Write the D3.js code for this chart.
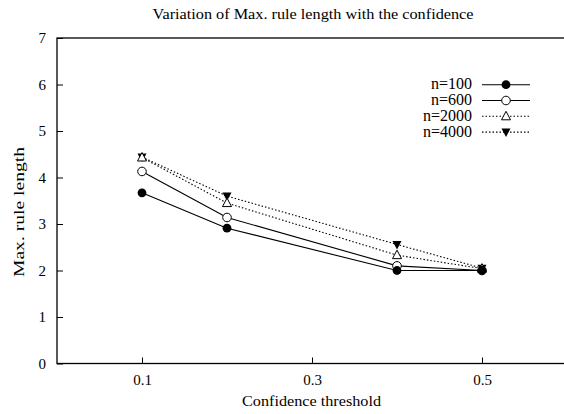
<!DOCTYPE html>
<html><head><meta charset="utf-8">
<script src="https://cdn.jsdelivr.net/npm/d3@7"></script>
<style>body{margin:0;background:#fff}svg{display:block}</style>
</head><body>
<script>
const thresholds = [0.1, 0.2, 0.4, 0.5];
const n100 = [3.67, 2.91, 2.0, 2.0];
const n600 = [4.13, 3.14, 2.1, 2.0];
const n2000 = [4.43, 3.45, 2.33, 2.04];
const n4000 = [4.44, 3.6, 2.56, 2.05];
const seriesNames = ["n=100", "n=600", "n=2000", "n=4000"];
const xTicks = [0.1, 0.3, 0.5];
const yTicks = [0, 1, 2, 3, 4, 5, 6, 7];

const FONT = "Liberation Serif";
const W = 564, H = 414;
const svg = d3.select("body").append("svg").attr("width", W).attr("height", H);
const x = d3.scaleLinear().domain([0, 0.6]).range([57, 567]);
const y = d3.scaleLinear().domain([0, 7]).range([363.5, 38]);

svg.append("rect").attr("x", 57).attr("y", 38).attr("width", 510).attr("height", 325.5)
  .attr("fill", "none").attr("stroke", "#000").attr("stroke-width", 1.3);

const gx = svg.append("g").attr("transform", "translate(0,363.5)")
  .call(d3.axisBottom(x).tickValues(xTicks).tickFormat(d3.format(".1f")).tickSizeInner(-6).tickSizeOuter(0).tickPadding(11));
gx.attr("font-family", FONT).attr("font-size", 15);
gx.select(".domain").remove();
gx.selectAll("text").attr("fill", "#000");
gx.selectAll("line").attr("stroke", "#000");

const gy = svg.append("g").attr("transform", "translate(57,0)")
  .call(d3.axisLeft(y).tickValues(yTicks).tickFormat(d3.format("d")).tickSizeInner(-6).tickSizeOuter(0).tickPadding(11));
gy.attr("font-family", FONT).attr("font-size", 15);
gy.select(".domain").remove();
gy.selectAll("text").attr("fill", "#000");
gy.selectAll("line").attr("stroke", "#000");

const labels = svg.append("g").attr("font-family", FONT).attr("fill", "#000");
labels.append("text").attr("x", 313).attr("y", 19).attr("text-anchor", "middle").attr("font-size", 14.5)
  .attr("textLength", 321).attr("lengthAdjust", "spacingAndGlyphs")
  .text("Variation of Max. rule length with the confidence");
labels.append("text").attr("x", 311.5).attr("y", 405.5).attr("text-anchor", "middle").attr("font-size", 15.5)
  .attr("textLength", 139).attr("lengthAdjust", "spacingAndGlyphs")
  .text("Confidence threshold");
labels.append("text").attr("transform", "translate(24,212) rotate(-90)").attr("text-anchor", "middle").attr("font-size", 14)
  .attr("textLength", 130).attr("lengthAdjust", "spacingAndGlyphs")
  .text("Max. rule length");

const allSeries = [n100, n600, n2000, n4000];
const dashes = [null, null, "1.5,2", "1.5,2"];
const markers = ["fcircle", "ocircle", "otri", "ftri"];

function drawMarker(g, type, cx, cy) {
  if (type === "fcircle") g.append("circle").attr("cx", cx).attr("cy", cy).attr("r", 4.4).attr("fill", "#000");
  else if (type === "ocircle") g.append("circle").attr("cx", cx).attr("cy", cy).attr("r", 4.3).attr("fill", "#fff").attr("stroke", "#000").attr("stroke-width", 1);
  else if (type === "otri") g.append("path").attr("d", `M${cx},${cy-5}L${cx+4.5},${cy+3.5}L${cx-4.5},${cy+3.5}Z`).attr("fill", "#fff").attr("stroke", "#000").attr("stroke-width", 1);
  else g.append("path").attr("d", `M${cx},${cy+5}L${cx+4.5},${cy-3.5}L${cx-4.5},${cy-3.5}Z`).attr("fill", "#000");
}

const line = d3.line().x((d, i) => x(thresholds[i])).y(d => y(d));
const order = [3, 2, 1, 0];
order.forEach(k => {
  const s = allSeries[k];
  const g = svg.append("g");
  g.append("path").attr("d", line(s)).attr("fill", "none").attr("stroke", "#000").attr("stroke-width", 1.1)
    .attr("stroke-dasharray", dashes[k]);
  s.forEach((v, i) => drawMarker(g, markers[k], x(thresholds[i]), y(v)));
  const ly = 84.7 + k * 15.8;
  g.append("text").attr("x", 472).attr("y", ly + 4.5).attr("text-anchor", "end").attr("font-family", FONT)
    .attr("font-size", 16).attr("fill", "#000").text(seriesNames[k]);
  g.append("line").attr("x1", 482).attr("x2", 530).attr("y1", ly).attr("y2", ly).attr("stroke", "#000").attr("stroke-width", 1.1)
    .attr("stroke-dasharray", dashes[k]);
  drawMarker(g, markers[k], 506, ly);
});
</script>
</body></html>
